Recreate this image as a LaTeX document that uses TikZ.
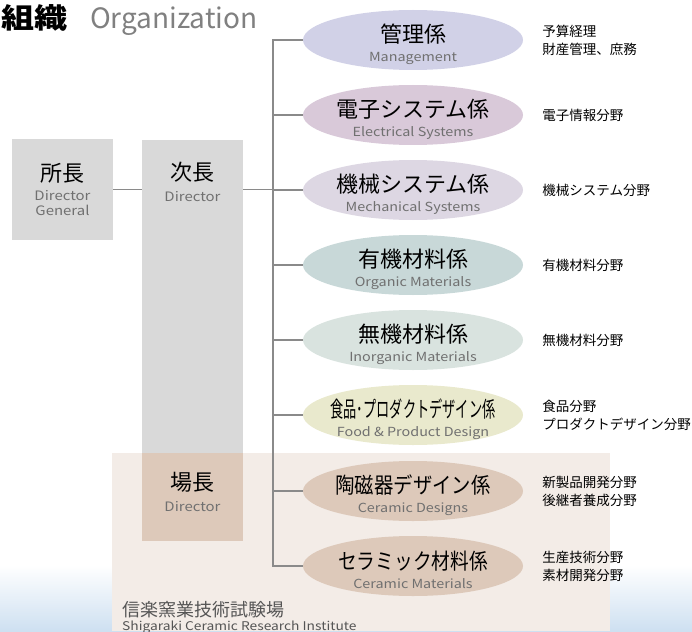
\documentclass[tikz,border=0pt]{standalone}
\usepackage{fontspec}
\usepackage{graphicx}
\setmainfont{Noto Sans CJK JP}
\newfontfamily\engfont[FakeStretch=1.15]{Noto Sans CJK JP}
\usetikzlibrary{positioning,calc,shapes.geometric}

\definecolor{lineColor}{RGB}{138,138,138}
\definecolor{boxGray}{RGB}{217,217,217}
\definecolor{tanColor}{RGB}{221,201,186}
\definecolor{beigeColor}{RGB}{243,236,231}
\definecolor{skyColor}{RGB}{206,224,241}
\definecolor{engColor}{RGB}{112,112,112}
\definecolor{titleGray}{RGB}{128,128,128}
\definecolor{instGray}{RGB}{85,85,85}
\definecolor{kanriColor}{RGB}{209,209,231}
\definecolor{denshiColor}{RGB}{217,201,217}
\definecolor{kikaiColor}{RGB}{221,215,227}
\definecolor{yukiColor}{RGB}{200,216,216}
\definecolor{mukiColor}{RGB}{217,227,223}
\definecolor{shokuColor}{RGB}{233,233,205}

\newcommand{\bigname}[1]{{\normalfont\color{black}\fontsize{22}{16}\selectfont #1}}
\newcommand{\sectname}[1]{\bigname{\rule{0pt}{27pt}#1}}

\tikzset{
  line/.style={draw=lineColor, line width=1.4pt},
  box/.style={fill=boxGray, minimum width=101pt, inner sep=0pt, align=center,
    text=engColor, font=\engfont\fontsize{13}{15}\selectfont},
  sect/.style={ellipse, minimum width=220pt, minimum height=60pt, inner sep=0pt,
    inner ysep=-4pt, align=center, text=engColor, font=\engfont\fontsize{12.5}{16}\selectfont},
  duty/.style={inner sep=0pt, align=left, anchor=west, font=\fontsize{13.5}{18}\selectfont},
}

\begin{document}
\begin{tikzpicture}[x=1pt,y=-1pt]
\useasboundingbox (0,0) rectangle (692,631);

% background band and institute area
\shade[top color=white, bottom color=skyColor] (0,565) rectangle (692,631);
\fill[beigeColor] (112,453) rectangle (610,631);

% title
\node[anchor=base west, inner sep=0pt, font=\fontsize{28}{28}\selectfont\bfseries] (soshiki) at (1,29) {\scalebox{1.18}[1]{組織}};
\node[anchor=base west, inner sep=0pt, text=titleGray, font=\fontsize{28}{28}\selectfont] (organization) at (90,29) {Organization};

% directors
\node[box, minimum height=101pt] (shocho) at (62.5,189.5) {\bigname{所長}\\[4pt] Director\\ General};
\node[box, minimum height=313pt, anchor=north] (jicho) at (192.5,140) {};
\node[box, fill=none, anchor=north] (jichoLabel) at ($(jicho.north)+(0,22)$) {\bigname{次長}\\[6pt] Director};
\node[box, fill=tanColor, minimum height=88pt, anchor=north] (jocho) at (192.5,453) {};
\node[box, fill=none, anchor=north] (jochoLabel) at ($(jocho.north)+(0,19)$) {\bigname{場長}\\[6pt] Director};

% sections
\node[sect, fill=kanriColor] (kanri) at (413,40) {\sectname{管理係}\\[3pt] Management};
\node[sect, fill=denshiColor] (denshi) at (413,115) {\sectname{電子システム係}\\[3pt] Electrical Systems};
\node[sect, fill=kikaiColor] (kikai) at (413,190) {\sectname{機械システム係}\\[3pt] Mechanical Systems};
\node[sect, fill=yukiColor] (yuki) at (413,265) {\sectname{有機材料係}\\[3pt] Organic Materials};
\node[sect, fill=mukiColor] (muki) at (413,340) {\sectname{無機材料係}\\[3pt] Inorganic Materials};
\node[sect, fill=shokuColor, inner xsep=-14pt] (shoku) at (413,415) {\sectname{\scalebox{0.6}[1]{食品･プロダクトデザイン係}}\\[3pt] Food \& Product Design};
\node[sect, fill=tanColor] (tou) at (413,491) {\sectname{\scalebox{0.88}[1]{陶磁器デザイン係}}\\[3pt] Ceramic Designs};
\node[sect, fill=tanColor] (sera) at (413,566) {\sectname{\scalebox{0.85}[1]{セラミック材料係}}\\[3pt] Ceramic Materials};

% duties
\node[duty, right=19pt of kanri] (kanriDuty) {予算経理\\財産管理、庶務};
\node[duty, right=19pt of denshi] (denshiDuty) {電子情報分野};
\node[duty, right=19pt of kikai] (kikaiDuty) {機械システム分野};
\node[duty, right=19pt of yuki] (yukiDuty) {有機材料分野};
\node[duty, right=19pt of muki] (mukiDuty) {無機材料分野};
\node[duty, right=19pt of shoku] (shokuDuty) {食品分野\\プロダクトデザイン分野};
\node[duty, right=19pt of tou] (touDuty) {新製品開発分野\\後継者養成分野};
\node[duty, right=19pt of sera] (seraDuty) {生産技術分野\\素材開発分野};

% connectors
\coordinate (trunk) at (273,0);
\draw[line] (shocho.east) -- (shocho.east -| jicho.west);
\draw[line] (shocho.east -| jicho.east) -- (shocho.east -| trunk);
\draw[line] (kanri.west) -- (kanri.west -| trunk) -- (sera.west -| trunk) -- (sera.west);
\draw[line] (denshi.west -| trunk) -- (denshi.west);
\draw[line] (kikai.west -| trunk) -- (kikai.west);
\draw[line] (yuki.west -| trunk) -- (yuki.west);
\draw[line] (muki.west -| trunk) -- (muki.west);
\draw[line] (shoku.west -| trunk) -- (shoku.west);
\draw[line] (tou.west -| trunk) -- (tou.west);

% institute name
\node[anchor=base west, inner sep=0pt, text=instGray, font=\fontsize{18}{18}\selectfont] (institute) at (122,616) {信楽窯業技術試験場};
\node[anchor=base west, inner sep=0pt, text=instGray, font=\engfont\fontsize{12}{12}\selectfont] (instituteEn) at (122,630) {Shigaraki Ceramic Research Institute};
\end{tikzpicture}
\end{document}
